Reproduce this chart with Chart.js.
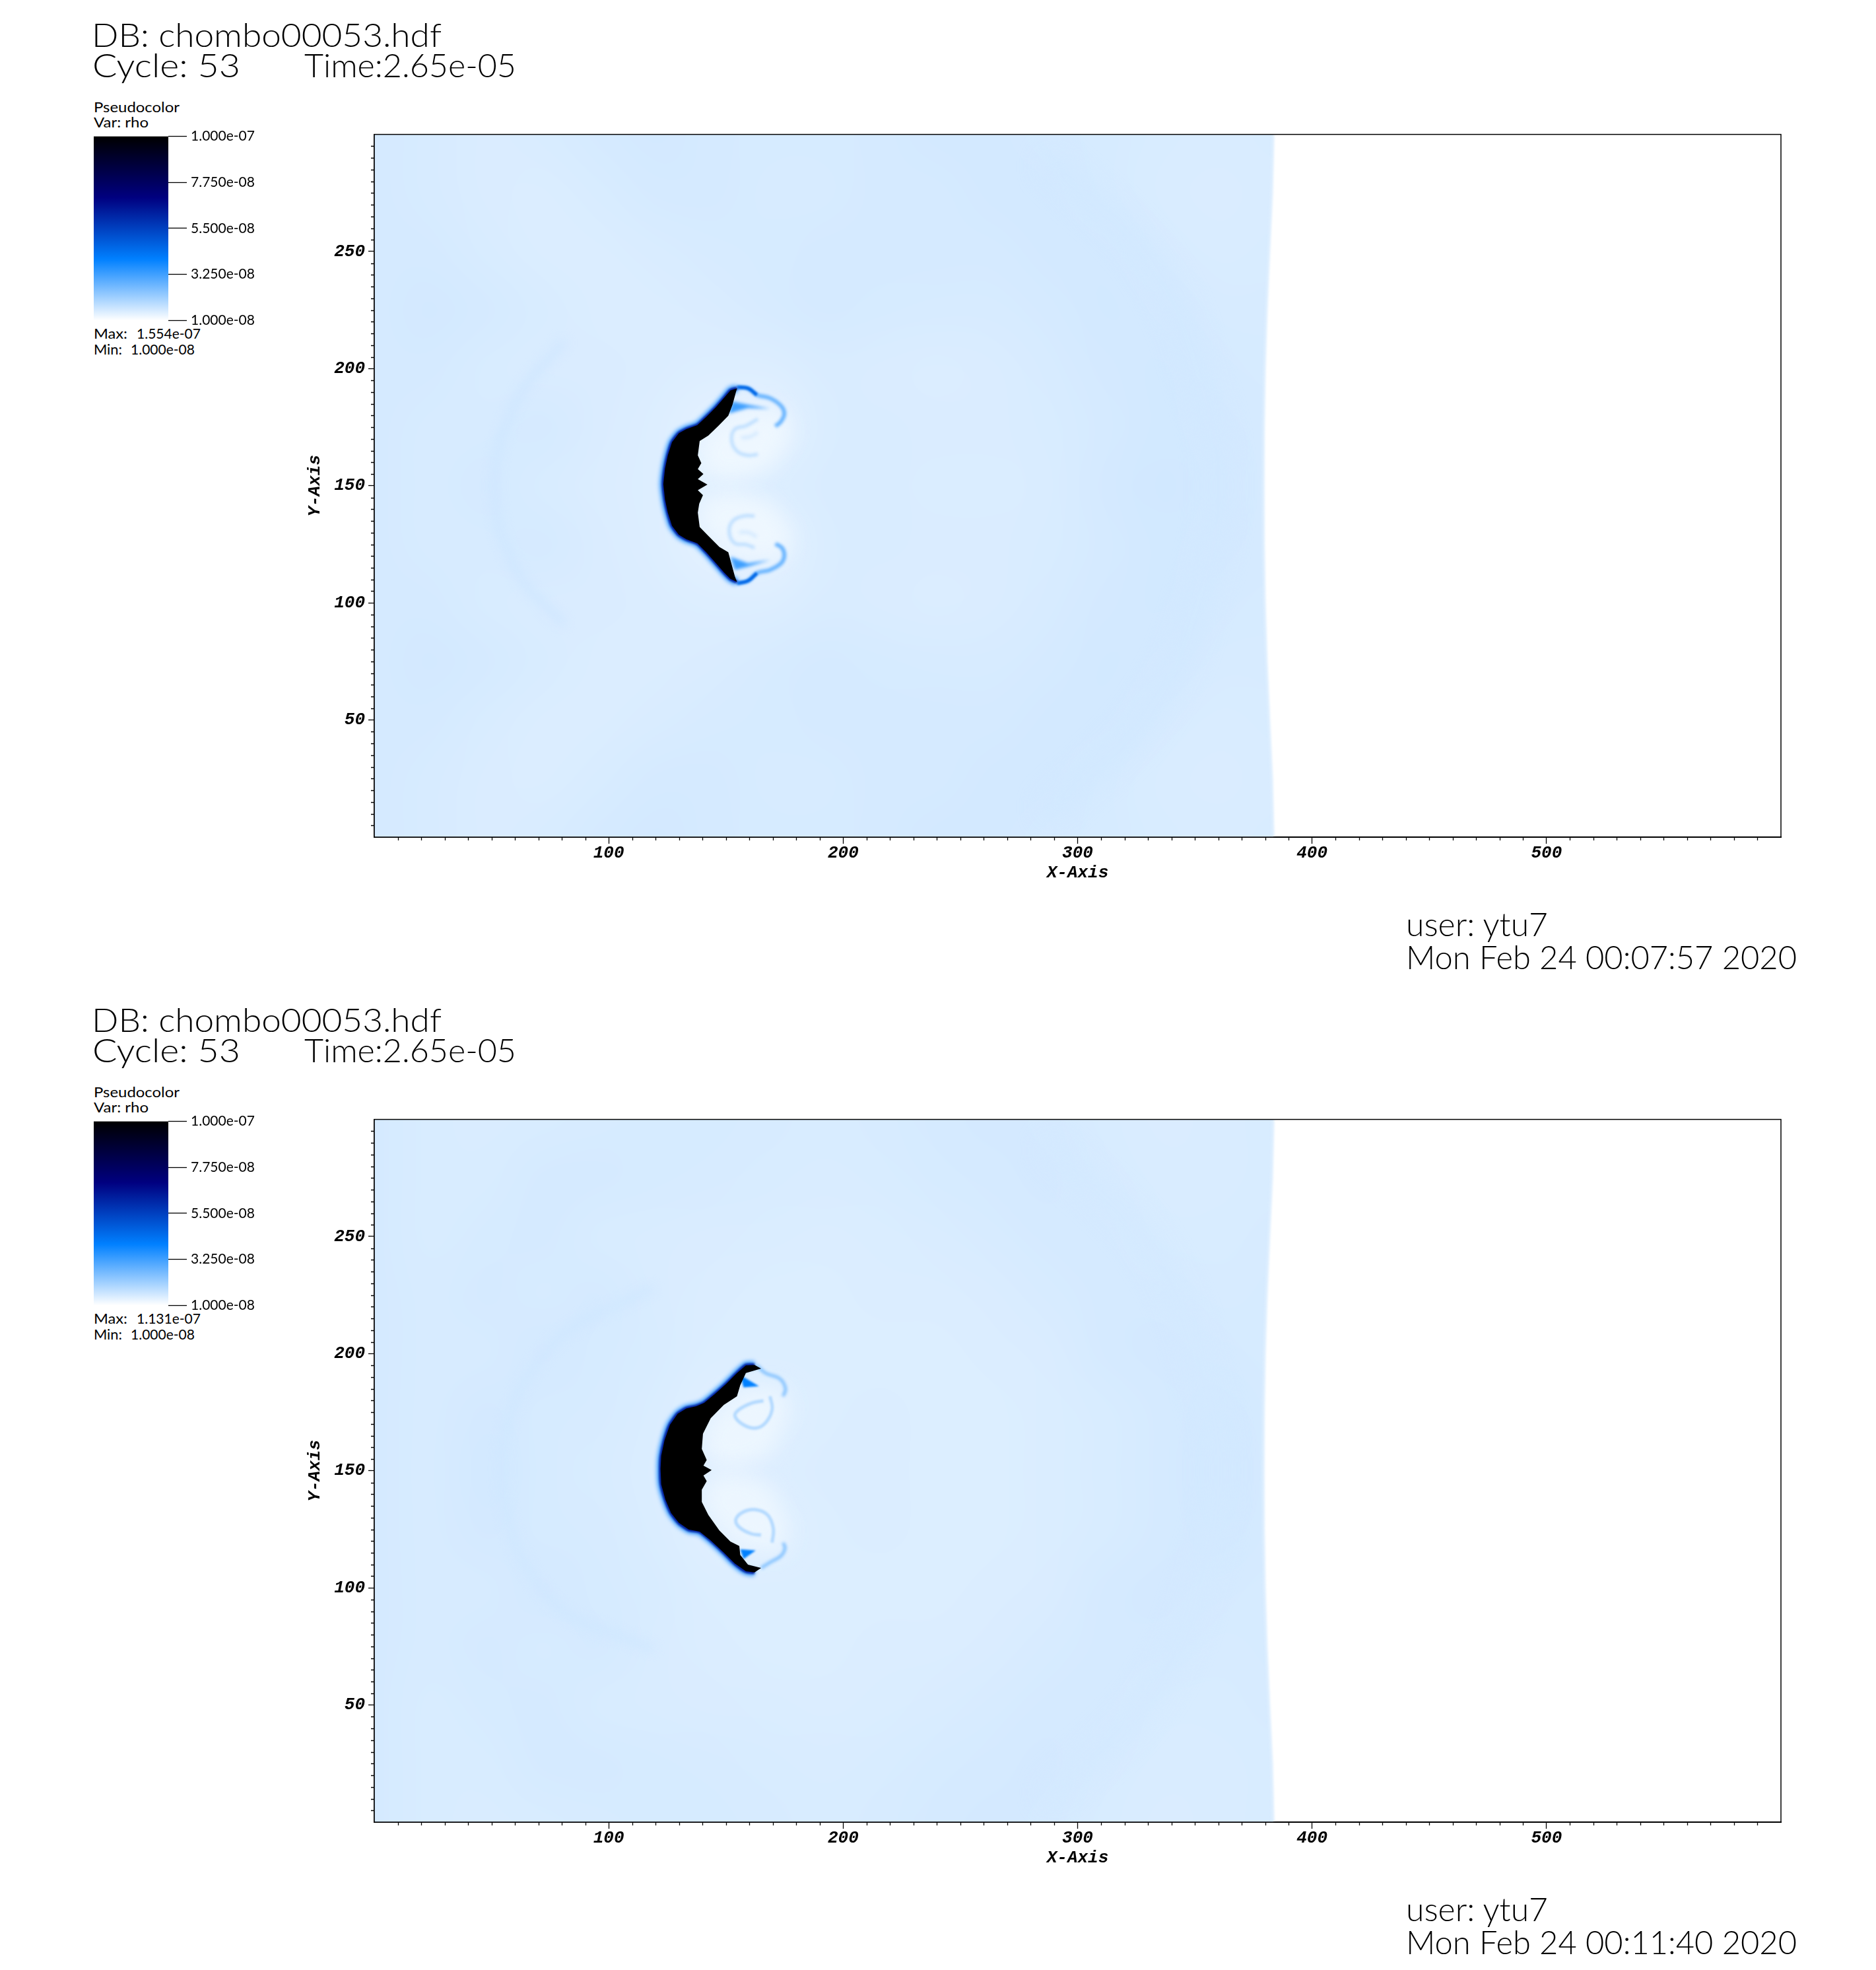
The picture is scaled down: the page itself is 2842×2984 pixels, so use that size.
<!DOCTYPE html>
<html>
<head>
<meta charset="utf-8">
<title>rho pseudocolor</title>
<script src="https://cdn.jsdelivr.net/npm/chart.js@4/dist/chart.umd.js"></script>
<style>
  html, body { margin: 0; padding: 0; background: #fff; width: 2842px; height: 2984px; overflow: hidden; }
  canvas { position: absolute; }
  .note { position: absolute; line-height: 0; white-space: pre; color: #000; font-family: Lato, sans-serif; font-weight: 300; transform-origin: 0 0; }
</style>
</head>
<body>
<script>
// axes
const xMajor = [100, 200, 300, 400, 500];
const yMajor = [50, 100, 150, 200, 250];
const legendTicks = [1e-7, 7.75e-8, 5.5e-8, 3.25e-8, 1e-8];

// background field, rho in units of 1e-8, rows from the top (y=300) down
const xGrid = [0, 24, 48, 72, 96, 120, 144, 168, 192, 216, 240, 264, 288, 312, 336, 360, 384];
const yGrid = [300, 275, 250, 225, 200, 175, 150, 125, 100, 75, 50, 25, 0];
const rhoGrid1 = [
  [1.50,1.47,1.44,1.46,1.50,1.52,1.50,1.48,1.48,1.50,1.52,1.52,1.50,1.48,1.46,1.45,1.46],
  [1.50,1.47,1.44,1.42,1.46,1.49,1.49,1.47,1.47,1.49,1.50,1.52,1.52,1.48,1.45,1.44,1.45],
  [1.50,1.50,1.46,1.42,1.42,1.45,1.47,1.48,1.49,1.49,1.49,1.50,1.52,1.52,1.47,1.45,1.46],
  [1.50,1.52,1.50,1.46,1.42,1.42,1.44,1.47,1.49,1.48,1.47,1.47,1.49,1.53,1.51,1.47,1.47],
  [1.50,1.50,1.46,1.44,1.44,1.42,1.40,1.40,1.45,1.44,1.42,1.44,1.47,1.51,1.53,1.49,1.48],
  [1.50,1.47,1.47,1.50,1.44,1.40,1.32,1.30,1.43,1.45,1.44,1.44,1.46,1.50,1.53,1.51,1.50],
  [1.50,1.47,1.50,1.46,1.42,1.40,1.36,1.41,1.45,1.45,1.43,1.43,1.45,1.51,1.54,1.52,1.50],
  [1.50,1.47,1.47,1.50,1.44,1.40,1.32,1.30,1.43,1.45,1.44,1.44,1.46,1.50,1.53,1.51,1.50],
  [1.50,1.50,1.46,1.44,1.44,1.42,1.40,1.40,1.45,1.44,1.42,1.44,1.47,1.51,1.53,1.49,1.48],
  [1.50,1.52,1.50,1.46,1.42,1.42,1.44,1.47,1.49,1.48,1.47,1.47,1.49,1.53,1.51,1.47,1.47],
  [1.50,1.50,1.46,1.42,1.42,1.45,1.47,1.48,1.49,1.49,1.49,1.50,1.52,1.52,1.47,1.45,1.46],
  [1.50,1.47,1.44,1.42,1.46,1.49,1.49,1.47,1.47,1.49,1.50,1.52,1.52,1.48,1.45,1.44,1.45],
  [1.50,1.47,1.44,1.46,1.50,1.52,1.50,1.48,1.48,1.50,1.52,1.52,1.50,1.48,1.46,1.45,1.46]
];
const rhoGrid2 = [
  [1.49,1.46,1.45,1.46,1.47,1.48,1.48,1.47,1.46,1.47,1.49,1.51,1.50,1.46,1.44,1.45,1.46],
  [1.49,1.46,1.46,1.49,1.49,1.48,1.47,1.46,1.45,1.46,1.48,1.50,1.51,1.47,1.45,1.45,1.46],
  [1.49,1.46,1.48,1.49,1.46,1.45,1.44,1.43,1.42,1.43,1.45,1.47,1.50,1.50,1.46,1.46,1.47],
  [1.49,1.47,1.49,1.47,1.49,1.45,1.42,1.41,1.41,1.42,1.42,1.44,1.47,1.50,1.49,1.47,1.48],
  [1.49,1.47,1.47,1.51,1.48,1.46,1.41,1.41,1.41,1.41,1.41,1.42,1.44,1.49,1.51,1.49,1.48],
  [1.49,1.47,1.51,1.48,1.47,1.43,1.37,1.35,1.41,1.42,1.41,1.41,1.43,1.46,1.49,1.53,1.49],
  [1.49,1.47,1.53,1.48,1.46,1.42,1.39,1.40,1.42,1.42,1.41,1.41,1.43,1.46,1.49,1.54,1.50],
  [1.49,1.47,1.51,1.48,1.47,1.43,1.37,1.35,1.41,1.42,1.41,1.41,1.43,1.46,1.49,1.53,1.49],
  [1.49,1.47,1.47,1.51,1.48,1.46,1.41,1.41,1.41,1.41,1.41,1.42,1.44,1.49,1.51,1.49,1.48],
  [1.49,1.47,1.49,1.47,1.49,1.45,1.42,1.41,1.41,1.42,1.42,1.44,1.47,1.50,1.49,1.47,1.48],
  [1.49,1.46,1.48,1.49,1.46,1.45,1.44,1.43,1.42,1.43,1.45,1.47,1.50,1.50,1.46,1.46,1.47],
  [1.49,1.46,1.46,1.49,1.49,1.48,1.47,1.46,1.45,1.46,1.48,1.50,1.51,1.47,1.45,1.45,1.46],
  [1.49,1.46,1.45,1.46,1.47,1.48,1.48,1.47,1.46,1.47,1.49,1.51,1.50,1.46,1.44,1.45,1.46]
];

// right edge of the simulated region
const edgeY = [0, 25, 50, 75, 100, 125, 150, 175, 200, 225, 250, 275, 300];
const edgeX = [383.4, 382.8, 381.6, 380.5, 379.7, 379.3, 379.2, 379.3, 379.7, 380.5, 381.6, 382.8, 383.4];

// panel 1 shapes, data units; the first 23 points of the blob are its outer side
const blob1X = [154.7,151.9,149.1,145.8,141.6,137.8,133.1,129.9,127.0,125.2,124.0,123.3,124.0,125.2,127.0,129.9,133.1,137.8,141.6,145.8,149.1,151.9,154.7,153.8,151.0,147.2,142.5,138.8,138.0,138.6,140.2,138.0,142.1,138.0,140.4,138.0,139.5,138.0,138.8,142.5,146.8,151.0,152.8];
const blob1Y = [191.6,190.7,187.4,183.6,179.4,175.9,174.2,172.4,168.6,163.0,157.3,150.7,144.2,138.5,132.9,129.1,127.2,125.4,121.6,116.9,113.1,110.3,108.9,111.3,121.6,123.9,128.6,132.4,138.5,142.3,146.0,148.1,150.5,152.8,155.0,157.1,159.7,163.0,169.1,171.4,175.6,179.9,184.6];
const bandUp1X = [154.7,159.4,163.2,168.8,173.5,174.9,173.5,171.1];
const bandUp1Y = [192.1,191.6,188.8,187.4,184.1,180.8,177.5,175.4];
const bandLo1X = [154.7,159.4,163.2,168.8,173.5,174.9,173.9,171.1];
const bandLo1Y = [108.4,109.4,112.7,114.1,116.9,120.2,123.5,125.2];
const wedgeUp1X = [152.8,159.4,168.8,159.4,151.0];
const wedgeUp1Y = [186.0,184.6,182.9,183.2,180.8];
const wedgeLo1X = [151.9,159.4,168.8,159.4,153.8];
const wedgeLo1Y = [119.7,116.9,118.3,115.5,114.1];
const swirlUp1X = [163.6,159.4,154.7,152.4,153.8,158.5,163.6];
const swirlUp1Y = [163.4,163.0,164.8,169.5,174.2,175.6,178.5];
const swirlLo1X = [162.2,157.5,152.8,151.4,153.8,158.5,162.2];
const swirlLo1Y = [137.1,137.1,134.8,130.1,125.4,124.9,123.5];
const curlUp1X = [156.6,160.3,163.6];
const curlUp1Y = [170.5,171.0,172.8];
const curlLo1X = [155.7,159.4,163.2];
const curlLo1Y = [130.1,130.1,128.2];
const glowUp1X = [138.8,153.8,174.4,178.2,168.8,153.8,140.7];
const glowUp1Y = [168.6,181.8,182.7,171.4,157.3,152.6,154.5];
const glowLo1X = [138.8,153.8,174.4,178.2,168.8,153.8,140.7];
const glowLo1Y = [132.9,120.7,118.8,130.1,143.2,147.0,145.1];
const ringLeft1X = [81, 60, 51.4, 60, 81];
const ringLeft1Y = [212, 185, 150, 115, 90.5];

// panel 2 shapes, data units; the first 24 points of the blob are its outer side
const blob2X = [162.2,158.5,154.7,150.0,145.3,140.7,137.4,133.1,129.4,126.1,123.8,122.4,122.1,122.4,124.2,126.6,129.9,134.1,138.8,143.5,149.1,153.8,158.5,162.2,165.0,159.4,156.1,155.7,151.9,147.2,142.5,139.7,139.7,141.8,140.4,143.9,140.4,141.8,139.7,140.2,143.5,149.1,154.7,156.1,158.5,165.0];
const blob2Y = [195.2,195.0,191.7,187.0,182.8,179.0,177.6,176.6,174.3,169.6,163.0,156.4,150.8,144.2,137.6,132.0,127.8,124.9,124.0,120.3,115.1,110.4,107.1,106.6,108.5,109.9,114.1,117.9,119.8,124.5,131.1,136.7,141.9,145.6,148.0,150.3,152.2,154.6,159.3,165.8,172.4,178.1,181.8,186.5,191.7,193.6];
const bandUp2X = [163.2,166.9,173.0,175.4,174.4];
const bandUp2Y = [195.0,191.7,189.3,185.1,181.8];
const bandLo2X = [165.0,168.8,173.5,175.2,174.4];
const bandLo2Y = [108.5,110.9,113.7,117.0,119.3];
const wedgeUp2X = [156.1,157.5,164.1,159.4];
const wedgeUp2Y = [190.8,185.6,186.1,188.9];
const wedgeLo2X = [156.1,157.5,162.7];
const wedgeLo2Y = [116.5,112.3,116.0];
const swirlUp2X = [166.0,161.3,155.7,153.8,157.5,162.7,166.9,169.7,168.8];
const swirlUp2Y = [179.9,179.0,176.2,173.4,169.6,168.2,170.5,176.2,181.8];
const swirlLo2X = [165.0,160.8,155.7,154.2,157.5,162.7,167.8,170.2,169.7];
const swirlLo2Y = [122.6,123.1,125.9,129.2,132.5,133.4,131.1,125.4,119.3];
const glowUp2X = [140.2,155.7,174.4,176.3,168.8,151.9,141.6];
const glowUp2Y = [167.7,183.7,185.6,174.3,156.4,150.8,154.6];
const glowLo2X = [140.2,155.7,174.4,176.3,168.8,151.9,141.6];
const glowLo2Y = [133.9,117.9,115.1,127.3,144.2,149.9,146.1];
const ringLeft2X = [118.7, 73.4, 54.6, 73.4, 118.7];
const ringLeft2Y = [228.2, 201.2, 151, 96.9, 73.7];

// wide faint shell on the right side, both panels
const ringRightX = [287.1, 332.4, 355, 360, 355, 332.4, 287.1];
const ringRightY = [289.4, 243, 185.1, 150.9, 112.3, 56.3, 10];

const rhoStops = [[1, [255,255,255]], [4, [0,128,255]], [7, [0,0,128]], [10, [0,0,0]]];

function rhoColor(rho) {
  for (let i = 1; i < rhoStops.length; i++) {
    if (rho <= rhoStops[i][0]) {
      const a = rhoStops[i-1], b = rhoStops[i];
      const t = Math.max(0, (rho - a[0]) / (b[0] - a[0]));
      return a[1].map((c, k) => Math.round(c + (b[1][k] - c) * t));
    }
  }
  return [0, 0, 0];
}
const css = rho => 'rgb(' + rhoColor(rho).join(',') + ')';
const pts = (xs, ys) => xs.map((x, i) => ({ x: x, y: ys[i] }));

function area(xs, ys, rho, blur) {
  return { data: pts(xs, ys), fill: false, areaColor: css(rho), borderWidth: 0, blur: blur };
}
function stroke(xs, ys, rho, width, blur, tension) {
  return { data: pts(xs, ys), fill: false, borderColor: css(rho), borderWidth: width, blur: blur,
    tension: tension === undefined ? 0.4 : tension };
}

const layers1 = [
  stroke(ringRightX, ringRightY, 1.54, 30, 18),
  stroke(ringLeft1X, ringLeft1Y, 1.58, 10, 8),
  stroke(edgeX, edgeY, 1.38, 4, 1.5, 0),
  area(glowUp1X, glowUp1Y, 1.2, 16),
  area(glowLo1X, glowLo1Y, 1.2, 16),
  stroke(swirlUp1X, swirlUp1Y, 1.75, 5, 2),
  stroke(swirlLo1X, swirlLo1Y, 1.75, 5, 2),
  stroke(curlUp1X, curlUp1Y, 1.5, 5, 2.5),
  stroke(curlLo1X, curlLo1Y, 1.5, 5, 2.5),
  stroke(bandUp1X, bandUp1Y, 2.8, 6, 2),
  stroke(bandLo1X, bandLo1Y, 2.8, 6, 2),
  stroke(bandUp1X.slice(0, 3), bandUp1Y.slice(0, 3), 4.6, 5, 1.5),
  stroke(bandLo1X.slice(0, 3), bandLo1Y.slice(0, 3), 4.6, 5, 1.5),
  area(wedgeUp1X, wedgeUp1Y, 3.3, 2.5),
  area(wedgeLo1X, wedgeLo1Y, 3.3, 2.5),
  stroke(blob1X.slice(0, 23), blob1Y.slice(0, 23), 3.4, 11, 3, 0.2),
  stroke(blob1X.slice(0, 23), blob1Y.slice(0, 23), 6.4, 5, 1.5, 0.2),
  area(blob1X, blob1Y, 10, 0.6)
];
const layers2 = [
  stroke(ringRightX, ringRightY, 1.52, 28, 18),
  stroke(ringLeft2X, ringLeft2Y, 1.56, 10, 8),
  stroke(edgeX, edgeY, 1.38, 4, 1.5, 0),
  area(glowUp2X, glowUp2Y, 1.22, 16),
  area(glowLo2X, glowLo2Y, 1.22, 16),
  stroke(swirlUp2X, swirlUp2Y, 1.9, 5, 1.8),
  stroke(swirlLo2X, swirlLo2Y, 1.9, 5, 1.8),
  stroke(bandUp2X, bandUp2Y, 2.4, 5, 2),
  stroke(bandLo2X, bandLo2Y, 2.4, 5, 2),
  area(wedgeUp2X, wedgeUp2Y, 4, 1.5),
  area(wedgeLo2X, wedgeLo2Y, 4, 1.5),
  stroke(blob2X.slice(0, 24), blob2Y.slice(0, 24), 3.4, 11, 3, 0.2),
  stroke(blob2X.slice(0, 24), blob2Y.slice(0, 24), 6.4, 5, 1.5, 0.2),
  area(blob2X, blob2Y, 10, 0.6)
];

// paints the coarse rho grid and clips it to the region edge
const fieldPlugin = {
  id: 'field',
  beforeDatasetsDraw(chart, args, opts) {
    const grid = opts.grid;
    const x = chart.scales.x, y = chart.scales.y, ctx = chart.ctx;
    const off = document.createElement('canvas');
    off.width = grid[0].length;
    off.height = grid.length;
    const octx = off.getContext('2d');
    const img = octx.createImageData(off.width, off.height);
    grid.forEach((row, j) => row.forEach((v, i) => {
      const c = rhoColor(v), p = (j * off.width + i) * 4;
      img.data[p] = c[0]; img.data[p+1] = c[1]; img.data[p+2] = c[2]; img.data[p+3] = 255;
    }));
    octx.putImageData(img, 0, 0);
    const dx = xGrid[1] - xGrid[0], dy = yGrid[0] - yGrid[1];
    const left = x.getPixelForValue(xGrid[0] - dx / 2), right = x.getPixelForValue(xGrid[xGrid.length-1] + dx / 2);
    const top = y.getPixelForValue(yGrid[0] + dy / 2), bottom = y.getPixelForValue(yGrid[yGrid.length-1] - dy / 2);
    ctx.save();
    ctx.beginPath();
    ctx.moveTo(x.getPixelForValue(0), y.getPixelForValue(0));
    edgeX.forEach((v, i) => ctx.lineTo(x.getPixelForValue(v), y.getPixelForValue(edgeY[i])));
    ctx.lineTo(x.getPixelForValue(0), y.getPixelForValue(300));
    ctx.closePath();
    ctx.clip();
    ctx.imageSmoothingEnabled = true;
    ctx.imageSmoothingQuality = 'high';
    ctx.drawImage(off, left, top, right - left, bottom - top);
    ctx.restore();
  },
  // the filler plugin runs before this one, so closed shapes are filled here to get the blur
  beforeDatasetDraw(chart, args) {
    const ds = chart.data.datasets[args.index], ctx = chart.ctx;
    ctx.save();
    if (ds.blur) ctx.filter = 'blur(' + ds.blur + 'px)';
    if (ds.areaColor) {
      ctx.beginPath();
      chart.getDatasetMeta(args.index).data.forEach((p, i) => {
        if (i) ctx.lineTo(p.x, p.y); else ctx.moveTo(p.x, p.y);
      });
      ctx.closePath();
      ctx.fillStyle = ds.areaColor;
      ctx.fill();
    }
  },
  afterDatasetDraw(chart) {
    chart.ctx.restore();
  }
};

// plot frame and the short unlabelled ticks
const framePlugin = {
  id: 'frame',
  afterDraw(chart) {
    const a = chart.chartArea, ctx = chart.ctx, x = chart.scales.x, y = chart.scales.y;
    ctx.save();
    ctx.strokeStyle = '#000';
    ctx.lineWidth = 1.5;
    ctx.strokeRect(a.left, a.top, a.right - a.left, a.bottom - a.top);
    ctx.lineWidth = 1.3;
    ctx.beginPath();
    for (let v = 10; v < 600; v += 10) {
      if (v % 100 === 0) continue;
      const p = Math.round(x.getPixelForValue(v)) + 0.5;
      ctx.moveTo(p, a.bottom); ctx.lineTo(p, a.bottom + 5);
    }
    for (let v = 5; v < 300; v += 5) {
      if (v % 50 === 0) continue;
      const p = Math.round(y.getPixelForValue(v)) + 0.5;
      ctx.moveTo(a.left, p); ctx.lineTo(a.left - 5, p);
    }
    ctx.stroke();
    ctx.restore();
  }
};

const axisFont = { family: '"Liberation Mono", monospace', size: 26, weight: 'bold', style: 'italic' };

function addCanvas(left, top, width, height) {
  const c = document.createElement('canvas');
  c.width = width;
  c.height = height;
  c.style.left = left + 'px';
  c.style.top = top + 'px';
  c.style.width = width + 'px';
  c.style.height = height + 'px';
  document.body.appendChild(c);
  return c;
}

function drawPlot(offsetY, layers, grid) {
  // the y tick labels reserve 21px above the plot area whatever the padding says
  const canvas = addCanvas(400, 183 + offsetY, 2320, 1157);
  const datasets = layers.map((l, i) => Object.assign({
    type: 'scatter', showLine: true, pointRadius: 0, order: -i
  }, l));
  return new Chart(canvas, {
    type: 'scatter',
    data: { datasets: datasets },
    plugins: [fieldPlugin, framePlugin],
    options: {
      responsive: false,
      animation: false,
      devicePixelRatio: 1,
      layout: { padding: { top: 7, right: 22, left: 0, bottom: 0 } },
      plugins: { legend: { display: false }, tooltip: { enabled: false }, field: { grid: grid } },
      events: [],
      scales: {
        x: {
          type: 'linear', min: 0, max: 600,
          afterBuildTicks: s => { s.ticks = xMajor.map(v => ({ value: v })); },
          afterFit: s => { s.height = 72; },
          grid: { drawOnChartArea: false, tickLength: 10, tickColor: '#000', tickWidth: 1.3 },
          border: { display: true, color: '#000', width: 2 },
          ticks: { color: '#000', font: axisFont, padding: -1, maxRotation: 0, autoSkip: false, callback: v => String(v) },
          title: { display: true, text: 'X-Axis', color: '#000', font: axisFont, padding: { top: 0, bottom: 2 } }
        },
        y: {
          type: 'linear', min: 0, max: 300,
          afterBuildTicks: s => { s.ticks = yMajor.map(v => ({ value: v })); },
          afterFit: s => { s.width = 167; },
          grid: { drawOnChartArea: false, tickLength: 9, tickColor: '#000', tickWidth: 1.3 },
          border: { display: true, color: '#000', width: 2 },
          ticks: { color: '#000', font: axisFont, padding: 5, autoSkip: false, callback: v => String(v) },
          title: { display: true, text: 'Y-Axis', color: '#000', font: axisFont, padding: { top: 62, bottom: 0 } }
        }
      }
    }
  });
}

function legendLabel(v) {
  const parts = v.toExponential(3).split('e-');
  return parts[0] + 'e-' + parts[1].padStart(2, '0');
}

function drawLegend(offsetY) {
  const canvas = addCanvas(142, 188 + offsetY, 258, 316);
  return new Chart(canvas, {
    type: 'bar',
    data: {
      labels: ['rho'],
      datasets: [{
        data: [[legendTicks[4], legendTicks[0]]],
        barPercentage: 1,
        categoryPercentage: 1,
        backgroundColor: ctx => {
          const a = ctx.chart.chartArea;
          if (!a) return '#000';
          const g = ctx.chart.ctx.createLinearGradient(0, a.bottom, 0, a.top);
          rhoStops.forEach(s => g.addColorStop((s[0] - 1) / 9, 'rgb(' + s[1].join(',') + ')'));
          return g;
        }
      }]
    },
    options: {
      responsive: false,
      animation: false,
      devicePixelRatio: 1,
      events: [],
      layout: { padding: { top: 3, bottom: 1, left: 0, right: 0 } },
      plugins: { legend: { display: false }, tooltip: { enabled: false } },
      scales: {
        x: { display: false },
        y: {
          position: 'right', min: 1e-8, max: 1e-7,
          afterBuildTicks: s => { s.ticks = legendTicks.map(v => ({ value: v })); },
          afterFit: s => { s.width = 145; },
          border: { display: false },
          grid: { drawOnChartArea: false, tickLength: 28, tickColor: '#000', tickWidth: 1.3 },
          ticks: { color: '#000', padding: 6, autoSkip: false,
            font: { family: 'Lato, sans-serif', size: 21, weight: '400' }, callback: legendLabel }
        }
      }
    }
  });
}

// text placed by baseline and squeezed to the width it has in the picture
const probe = document.createElement('canvas').getContext('2d');
function note(text, x, baseline, size, width) {
  const d = document.createElement('div');
  d.className = 'note';
  d.textContent = text;
  d.style.fontSize = size + 'px';
  if (size < 30) d.style.fontWeight = 400;
  probe.font = '300 ' + size + 'px Lato';
  const m = probe.measureText(text);
  d.style.left = x + 'px';
  d.style.top = (baseline - (m.fontBoundingBoxAscent - m.fontBoundingBoxDescent) / 2) + 'px';
  document.body.appendChild(d);
  d.style.transform = 'scaleX(' + (width / d.getBoundingClientRect().width) + ')';
}

function drawPanel(offsetY, layers, grid, maxLabel, stamp) {
  note('DB: chombo00053.hdf', 139, 71 + offsetY, 49, 530);
  note('Cycle: 53', 140, 117 + offsetY, 49, 224);
  note('Time:2.65e-05', 461, 117 + offsetY, 49, 321);
  note('Pseudocolor', 142, 170 + offsetY, 21, 130);
  note('Var: rho', 142, 193 + offsetY, 21, 83);
  note('Max:', 142, 513 + offsetY, 21, 51);
  note(maxLabel, 207, 513 + offsetY, 21, 97);
  note('Min:', 142, 537 + offsetY, 21, 43);
  note('1.000e-08', 198, 537 + offsetY, 21, 97);
  note('user: ytu7', 2130, 1418 + offsetY, 49, 215);
  note(stamp, 2130, 1468 + offsetY, 49, 592);
  drawLegend(offsetY);
  drawPlot(offsetY, layers, grid);
}

drawPanel(0, layers1, rhoGrid1, '1.554e-07', 'Mon Feb 24 00:07:57 2020');
drawPanel(1492, layers2, rhoGrid2, '1.131e-07', 'Mon Feb 24 00:11:40 2020');
</script>
</body>
</html>
